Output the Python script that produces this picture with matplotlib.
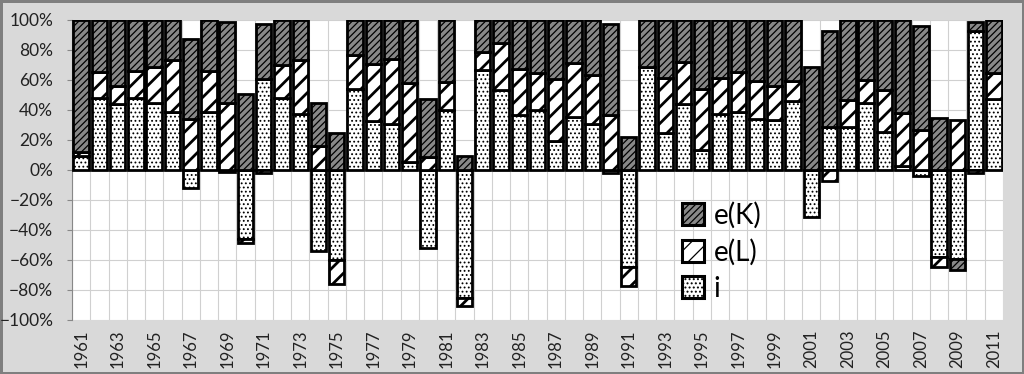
import numpy as np
import matplotlib
matplotlib.use('Agg')
import matplotlib.pyplot as plt
from matplotlib.patches import Patch
from matplotlib.ticker import PercentFormatter

plt.rcParams['font.family'] = ['Lato', 'DejaVu Sans']

years = list(range(1961, 2012))

# porcentajes
i_vals = [9.6, 47.8, 44, 48, 44.4, 38.9, -12.2, 39, -1, -46,
          60.4, 47.8, 37.2, -54, -60, 54, 32.7, 30.4, 5.1, -52,
          40, -85, 66.7, 53.3, 36.4, 40, 19.3, 35.6, 30.4, -2,
          -64.4, 68.9, 24.4, 43.8, 13.3, 37.1, 38.4, 34, 33.3, 46.2,
          -31, 28.9, 28.4, 44.4, 25.6, 2.7, -3.8, -57.8, -59.6, 92.9,
          47.1]
eL_vals = [2.6, 17.7, 12, 18, 24, 34.4, 34.2, 27, 44.4, -2.9,
           -2.2, 22.2, 36.1, 16, -16, 22.7, 38, 43.4, 53.1, 8.9,
           18.4, -5.7, 12.2, 31.1, 30.9, 24.9, 41.4, 35.5, 32.9, 36.7,
           -12.7, 0, 36.7, 28, 40.7, 24, 26.7, 25.6, 22.7, 13.1,
           0, -7.1, 18.3, 15.6, 27.7, 35.5, 26.7, -7.1, 33.3, -2.2,
           17.8]
eK_vals = [87.8, 34.5, 44, 34, 31.6, 26.7, 53.1, 34, 54, 51,
           36.9, 30, 26.7, 28.9, 24.4, 23.3, 29.3, 26.2, 41.8, 38.7,
           41.6, 9.3, 21.1, 15.6, 32.7, 35.1, 39.3, 28.9, 36.7, 60.6,
           22.2, 31.1, 38.9, 28.2, 46, 38.9, 34.9, 40.4, 44, 40.7,
           68.4, 64, 53.3, 40, 46.7, 61.8, 69.3, 34.9, -7.1, 5.5,
           35.1]

# nombre, valores, relleno, trama, grosor de trama
series = [('i', i_vals, 'white', '....', 0.8),
          ('e(L)', eL_vals, 'white', '//', 2.0),
          ('e(K)', eK_vals, '#888888', '/////', 0.9)]

fig = plt.figure(figsize=(10.24, 3.74), dpi=100, facecolor='#d9d9d9',
                 edgecolor='#7f7f7f', linewidth=2.5)
ax = fig.add_axes([72/1024, 1-320/374, 931/1024, 300/374])
ax.set_facecolor('white')

x = np.arange(len(years))
pos_base = np.zeros(len(years))
neg_base = np.zeros(len(years))
handles = {}
for name, vals, fill, hatch, hlw in series:
    v = np.array(vals)
    base = np.where(v >= 0, pos_base, neg_base)
    plt.rcParams['hatch.linewidth'] = hlw
    bars = ax.bar(x, v, 0.84, bottom=base, color=fill, edgecolor='black',
                  hatch=hatch, linewidth=2.0, zorder=3)
    for b in bars:
        if hasattr(b, 'set_hatch_linewidth'):
            b.set_hatch_linewidth(hlw)
    pos_base += np.where(v >= 0, v, 0)
    neg_base += np.where(v < 0, v, 0)
    h = Patch(facecolor=fill, edgecolor='black', hatch=hatch, linewidth=2.2)
    if hasattr(h, 'set_hatch_linewidth'):
        h.set_hatch_linewidth(hlw)
    handles[name] = h

ax.set_xlim(-0.5, len(years) - 0.5)
ax.set_ylim(-100, 100)
ax.set_yticks(np.arange(-100, 101, 20))
ax.yaxis.set_major_formatter(PercentFormatter(decimals=0))
ax.set_xticks(x[::2])
ax.set_xticklabels([str(y) for y in years[::2]], rotation=90)
ax.set_xticks(np.arange(-0.5, len(years), 1), minor=True)
ax.tick_params(axis='x', which='both', length=0, labelsize=12, pad=7, colors='#222222')
ax.tick_params(axis='y', length=3.5, color='#888888', labelsize=12.5, colors='#222222', pad=10)
ax.grid(axis='y', color='#d0d0d0', linewidth=0.8, zorder=0)
ax.grid(axis='x', which='minor', color='#d0d0d0', linewidth=0.8, zorder=0)
ax.grid(axis='x', which='major', visible=False)
ax.axhline(0, color='#777777', linewidth=1.2, zorder=2)
for s in ['top', 'right', 'bottom']:
    ax.spines[s].set_visible(False)
ax.spines['left'].set_color('#888888')

leg = ax.legend([handles['e(K)'], handles['e(L)'], handles['i']], ['e(K)', 'e(L)', 'i'],
                loc='upper left', bbox_to_anchor=(0.628, 0.477), frameon=False,
                fontsize=20, handlelength=0.8, handleheight=0.8, handletextpad=0.35,
                labelspacing=0.36)

fig.savefig('out.png', dpi=100, facecolor=fig.get_facecolor(), edgecolor=fig.get_edgecolor())
